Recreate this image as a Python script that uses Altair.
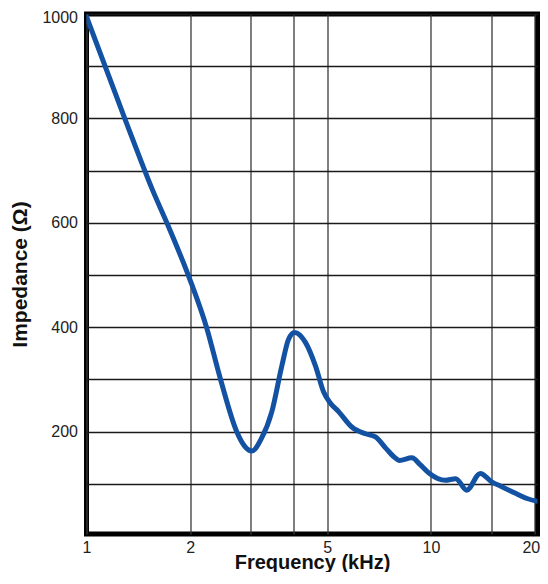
import altair as alt
import pandas as pd

freq = [1.0, 1.3, 1.55, 1.75, 2.0, 2.23, 2.45, 2.73, 2.88, 3.02, 3.22, 3.45, 3.69,
        3.86, 4.02, 4.32, 4.62, 4.88, 5.1, 5.4, 5.89, 6.45, 6.9, 7.4, 7.9, 8.1,
        8.8, 9.3, 9.9, 11.0, 11.8, 12.7, 13.9, 15.0, 16.0, 17.6, 19.0, 21.3]
impedance = [995, 795, 665, 585, 490, 400, 300, 200, 172, 163, 187, 238, 326,
             377, 390, 371, 326, 276, 255, 238, 209, 196, 190, 168, 149, 145,
             150, 137, 120, 107, 110, 88, 120, 104, 95, 82, 72, 64]

x_grid = [1, 2, 3, 4, 5, 10, 15, 20]
x_labels = [1, 2, 5, 10, 20]
y_grid = [100, 200, 300, 400, 500, 600, 700, 800, 900, 1000]
y_labels = [200, 400, 600, 800, 1000]

df = pd.DataFrame({"f": freq, "z": impedance})

x_label_expr = " || ".join(f"datum.value == {v}" for v in x_labels)
y_label_expr = " || ".join(f"datum.value == {v}" for v in y_labels)

chart = alt.Chart(df).mark_line(
    color="#1352a2", strokeWidth=5, interpolate="monotone", clip=True,
    strokeCap="round", strokeJoin="round"
).encode(
    x=alt.X("f:Q", scale=alt.Scale(type="log", domain=[1, 20.38], nice=False),
            axis=alt.Axis(values=x_grid, format="d",
                          labelExpr=f"({x_label_expr}) ? datum.label : ''",
                          labelAlign={"condition": {"test": "datum.value == 20", "value": "right"},
                                      "value": "center"},
                          labelOffset={"condition": {"test": "datum.value == 20", "value": 5},
                                       "value": 0},
                          title="Frequency (kHz)", grid=True, gridColor="#3a3a3a",
                          gridWidth=1.3, ticks=False, domain=False, labelPadding=5,
                          labelFlush=False, labelOverlap=False,
                          titleBaseline="alphabetic", titleY=34)),
    y=alt.Y("z:Q", scale=alt.Scale(domain=[4, 1000], nice=False, zero=False),
            axis=alt.Axis(values=y_grid, format="d",
                          labelExpr=f"({y_label_expr}) ? datum.label : ''",
                          labelOffset={"condition": {"test": "datum.value == 1000", "value": 3.5},
                                       "value": 0},
                          title="Impedance (Ω)", grid=True, gridColor="#1a1a1a",
                          gridWidth=1.6, ticks=False, domain=False, labelPadding=9,
                          labelFlush=False, labelOverlap=False,
                          titleBaseline="alphabetic", titleX=-60.5, titleFontSize=21)),
).properties(
    width=451, height=520,
    autosize=alt.AutoSizeParams(type="none"),
    padding={"left": 78.5, "top": 6, "right": 2.5, "bottom": 38},
).configure_view(
    stroke="black", strokeWidth=5
).configure_axis(
    labelFont="Liberation Sans", labelFontSize=16, labelColor="#222222",
    titleFont="Liberation Sans", titleFontSize=20, titleFontWeight="bold",
    titleColor="#111111"
)

chart.save("out.html", embed_options={"renderer": "svg", "actions": False})
